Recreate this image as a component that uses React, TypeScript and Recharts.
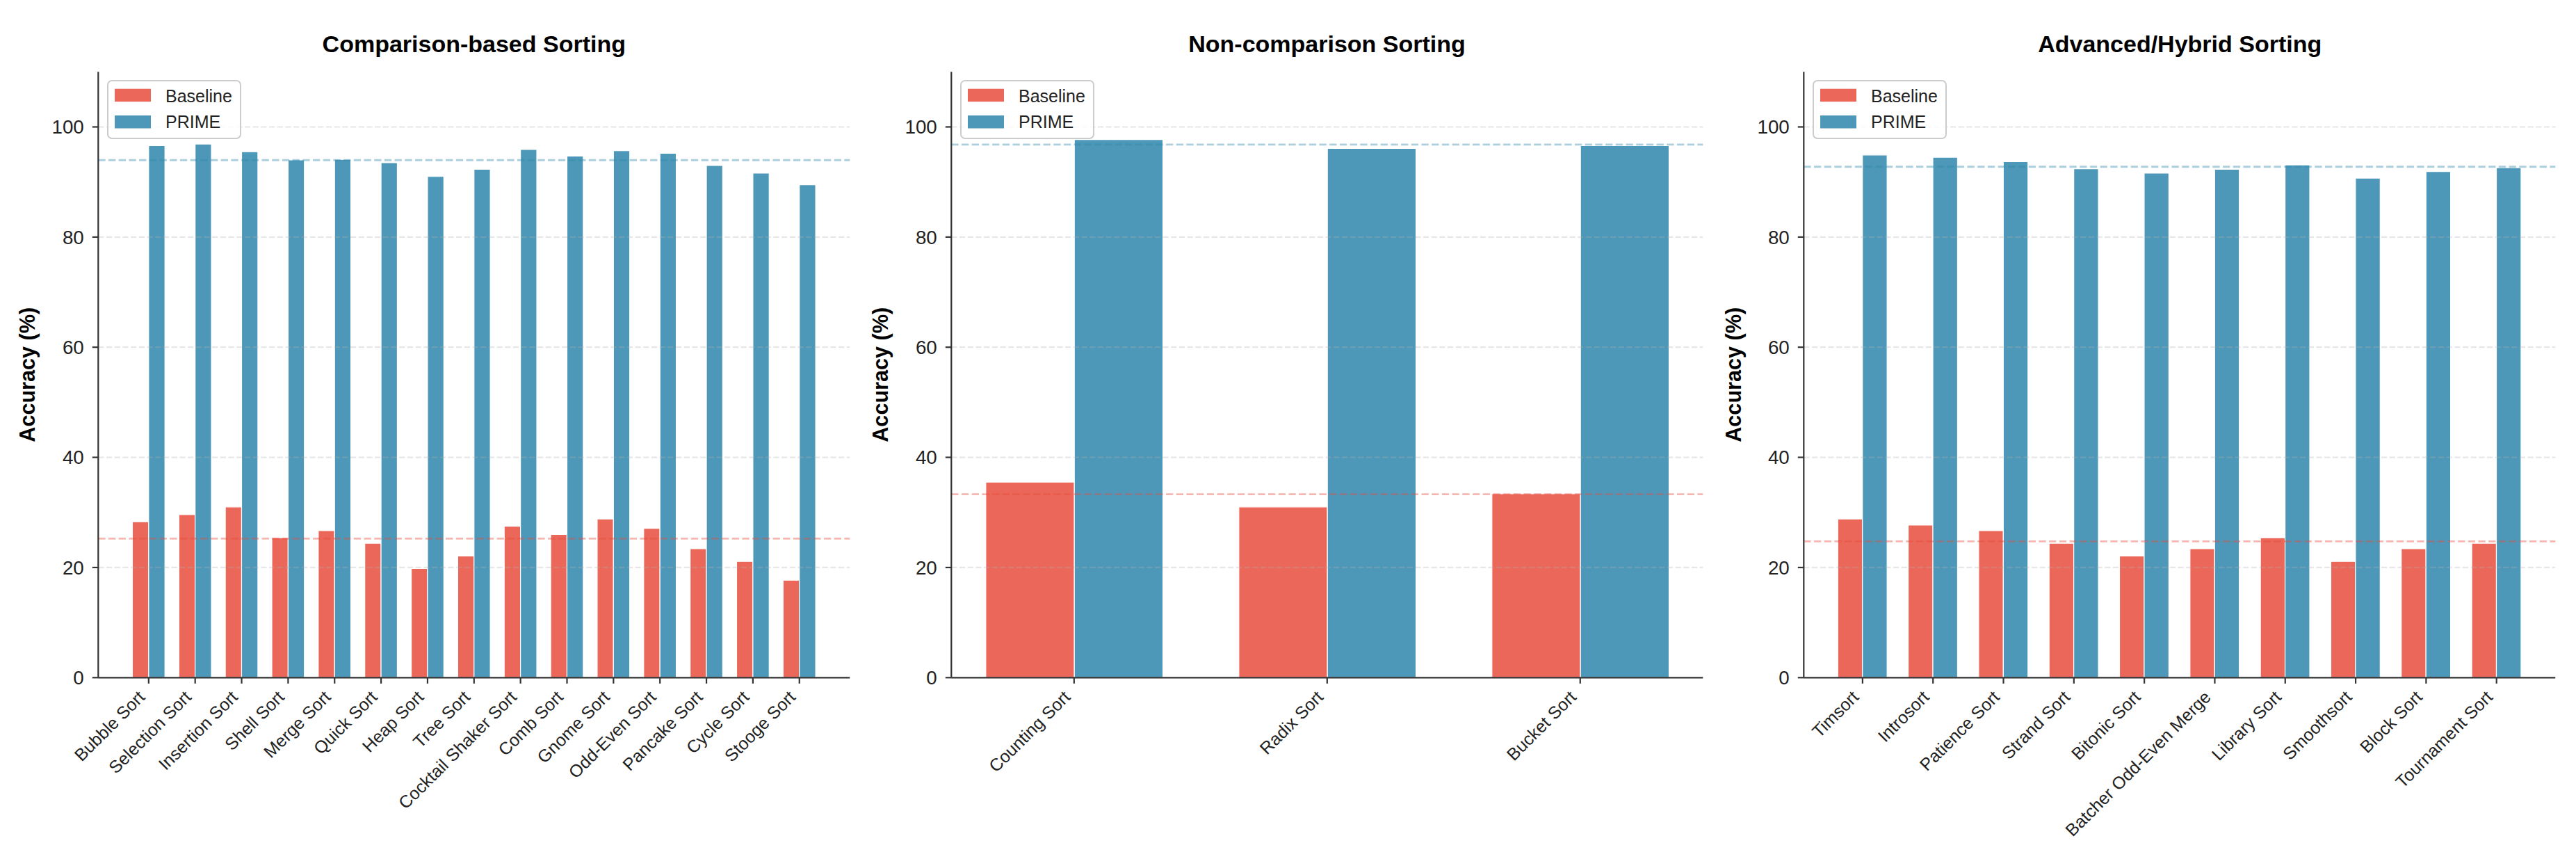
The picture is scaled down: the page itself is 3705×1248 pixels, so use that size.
import React from 'react';
import { BarChart, Bar, XAxis, YAxis, ReferenceLine, Legend } from 'recharts';

const FONT = '"Liberation Sans", Arial, Helvetica, sans-serif';

// ---------- data ----------
const comparisonNames = [
  'Bubble Sort', 'Selection Sort', 'Insertion Sort', 'Shell Sort', 'Merge Sort',
  'Quick Sort', 'Heap Sort', 'Tree Sort', 'Cocktail Shaker Sort', 'Comb Sort',
  'Gnome Sort', 'Odd-Even Sort', 'Pancake Sort', 'Cycle Sort', 'Stooge Sort',
];
const comparisonBaseline = [28.3, 29.6, 31.0, 25.4, 26.7, 24.4, 19.8, 22.1, 27.5, 26.0, 28.8, 27.1, 23.4, 21.1, 17.7];
const comparisonPrime = [96.6, 96.9, 95.5, 94.0, 94.1, 93.5, 91.0, 92.3, 95.9, 94.7, 95.7, 95.2, 93.0, 91.6, 89.5];

const nonComparisonNames = ['Counting Sort', 'Radix Sort', 'Bucket Sort'];
const nonComparisonBaseline = [35.5, 31.0, 33.4];
const nonComparisonPrime = [97.7, 96.1, 96.6];

const hybridNames = [
  'Timsort', 'Introsort', 'Patience Sort', 'Strand Sort', 'Bitonic Sort',
  'Batcher Odd-Even Merge', 'Library Sort', 'Smoothsort', 'Block Sort', 'Tournament Sort',
];
const hybridBaseline = [28.8, 27.7, 26.7, 24.4, 22.1, 23.4, 25.4, 21.1, 23.4, 24.4];
const hybridPrime = [94.9, 94.5, 93.7, 92.4, 91.6, 92.3, 93.1, 90.7, 91.9, 92.6];

const panelTitles = ['Comparison-based Sorting', 'Non-comparison Sorting', 'Advanced/Hybrid Sorting'];
const yTicks = [0, 20, 40, 60, 80, 100];
const yMax = 110;
const seriesNames = ['Baseline', 'PRIME'];

// ---------- style / layout ----------
const RED = '#E74C3C';
const BLUE = '#2E86AB';
const CH = 1248;
const PLOT_TOP = 103.3;
const PLOT_BOTTOM = 974.3;
const PLOT_W = 1081;
const AXIS_LEFT = 141.3;
const Y_AXIS_W = 100;
const X_AXIS_H = 100;
const PANEL_STEP = 1226.7;

const avg = (a: number[]) => a.reduce((s, v) => s + v, 0) / a.length;

const XTick = (props: any) => {
  const { x, y, payload, names } = props;
  const ax = x - 4;
  const ay = y + 21;
  return (
    <text
      x={ax}
      y={ay}
      textAnchor="end"
      fontSize={25}
      fontFamily={FONT}
      fill="#222"
      transform={`rotate(-45, ${ax}, ${ay})`}
    >
      {names[payload.value]}
    </text>
  );
};

const LegendBox = (props: any) => {
  const payload = props.payload || [];
  return (
    <svg width={194} height={86} style={{ display: 'block', overflow: 'visible' }}>
      <rect x={1} y={1} width={191} height={83} rx={6} ry={6} fill="#fff" fillOpacity={0.8} stroke="#cccccc" strokeWidth={2} />
      {payload.map((p: any, i: number) => (
        <g key={i}>
          <rect x={11} y={i === 0 ? 12.7 : 51} width={52} height={18.5} fill={p.color} fillOpacity={0.85} />
          <text x={84} y={i === 0 ? 31.7 : 69} fontSize={25} fontFamily={FONT} fill="#222">
            {p.value}
          </text>
        </g>
      ))}
    </svg>
  );
};

interface PanelProps {
  names: string[];
  baseline: number[];
  prime: number[];
  left: number;
  width: number;
}

function Panel({ names, baseline, prime, left, width }: PanelProps) {
  const n = names.length;
  const half = 0.35 + 0.05 * (n - 1 + 0.7);
  const lo = -half;
  const hi = n - 1 + half;
  const pxPerUnit = PLOT_W / (hi - lo);
  const barSize = 0.35 * pxPerUnit;
  const data = names.map((name, i) => ({ idx: i, name, baseline: baseline[i], prime: prime[i] }));
  const meanB = avg(baseline);
  const meanP = avg(prime);
  const axisStyle = { stroke: '#333', strokeWidth: 2.2 };
  return (
    <div style={{ position: 'absolute', left, top: 0 }}>
      <BarChart
        width={width}
        height={CH}
        data={data}
        margin={{
          top: PLOT_TOP,
          bottom: CH - PLOT_BOTTOM - X_AXIS_H,
          left: AXIS_LEFT - Y_AXIS_W,
          right: width - AXIS_LEFT - PLOT_W,
        }}
        barGap={0}
        barSize={barSize}
      >
        <XAxis
          type="number"
          dataKey="idx"
          domain={[lo, hi]}
          ticks={names.map((_, i) => i)}
          interval={0}
          height={X_AXIS_H}
          tickSize={8.5}
          tickMargin={0}
          axisLine={axisStyle}
          tickLine={axisStyle}
          tick={(p: any) => <XTick {...p} names={names} />}
        />
        <YAxis
          type="number"
          domain={[0, yMax]}
          ticks={yTicks}
          interval={0}
          width={Y_AXIS_W}
          tickSize={8.5}
          tickMargin={12}
          axisLine={axisStyle}
          tickLine={axisStyle}
          tick={{ fill: '#222', fontSize: 27.8, fontFamily: FONT }}
        />
        <Bar dataKey="baseline" name={seriesNames[0]} fill={RED} fillOpacity={0.85} stroke="#fff" strokeWidth={1.2} isAnimationActive={false} />
        <Bar dataKey="prime" name={seriesNames[1]} fill={BLUE} fillOpacity={0.85} stroke="#fff" strokeWidth={1.2} isAnimationActive={false} />
        {yTicks.slice(1).map((t) => (
          <ReferenceLine key={t} y={t} stroke="#b0b0b0" strokeOpacity={0.3} strokeWidth={2.2} strokeDasharray="8.2 3.5" />
        ))}
        <ReferenceLine y={meanB} stroke={RED} strokeOpacity={0.4} strokeWidth={2.8} strokeDasharray="10.3 4.4" />
        <ReferenceLine y={meanP} stroke={BLUE} strokeOpacity={0.4} strokeWidth={2.8} strokeDasharray="10.3 4.4" />
        <Legend
          layout="vertical"
          align="center"
          verticalAlign="middle"
          wrapperStyle={{ left: AXIS_LEFT + 12.7, top: PLOT_TOP + 11.7, width: 194, height: 86 }}
          content={<LegendBox />}
        />
      </BarChart>
    </div>
  );
}

export default function App() {
  const panels = [
    { names: comparisonNames, baseline: comparisonBaseline, prime: comparisonPrime },
    { names: nonComparisonNames, baseline: nonComparisonBaseline, prime: nonComparisonPrime },
    { names: hybridNames, baseline: hybridBaseline, prime: hybridPrime },
  ];
  return (
    <div style={{ position: 'fixed', left: 0, top: 0, width: 3705, height: 1248, background: '#fff', overflow: 'hidden' }}>
      {panels.map((p, i) => {
        const left = i * PANEL_STEP;
        const width = i === 2 ? 3705 - left : PANEL_STEP;
        return <Panel key={i} {...p} left={left} width={width} />;
      })}
      <svg width={3705} height={1248} style={{ position: 'absolute', left: 0, top: 0, pointerEvents: 'none' }}>
        {panelTitles.map((t, i) => {
          const ax = i * PANEL_STEP + AXIS_LEFT;
          const cy = (PLOT_TOP + PLOT_BOTTOM) / 2;
          const lx = ax - 91;
          return (
            <g key={i}>
              <text x={ax + PLOT_W / 2} y={75} textAnchor="middle" fontSize={34} fontWeight="bold" fontFamily={FONT} fill="#000">
                {t}
              </text>
              <text
                x={lx}
                y={cy}
                textAnchor="middle"
                fontSize={30.6}
                fontWeight="bold"
                fontFamily={FONT}
                fill="#000"
                transform={`rotate(-90, ${lx}, ${cy})`}
              >
                Accuracy (%)
              </text>
            </g>
          );
        })}
      </svg>
    </div>
  );
}
